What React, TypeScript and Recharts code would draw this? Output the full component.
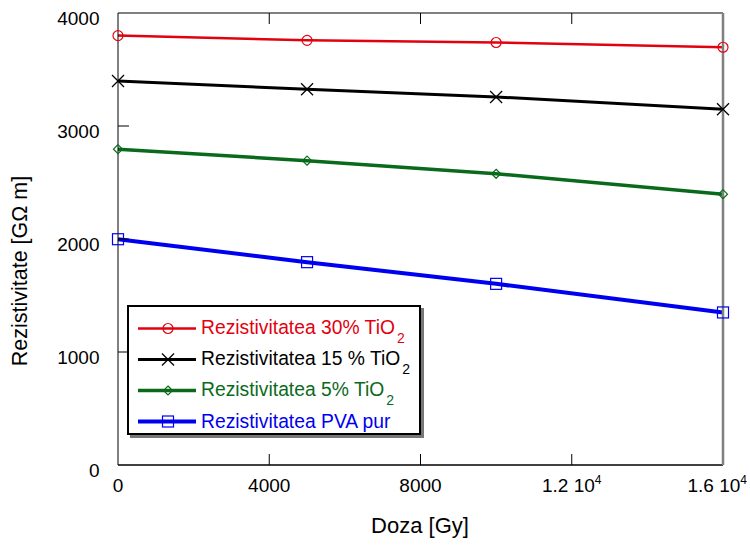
import React from 'react';
import { LineChart, Line, XAxis, YAxis, Legend } from 'recharts';

// Dose values (Gy) and resistivity (GΩ·m) for each film composition
const doses = [0, 5000, 10000, 16000];
const rez30 = [3800, 3758, 3739, 3697];
const rez15 = [3398, 3325, 3257, 3148];
const rez5 = [2795, 2693, 2577, 2397];
const rezPva = [1998, 1795, 1603, 1350];

const xTicks = [0, 4000, 8000, 12000, 16000];
const yTicks = [0, 1000, 2000, 3000, 4000];

const seriesNames = [
  'Rezistivitatea 30% TiO2',
  'Rezistivitatea 15 % TiO2',
  'Rezistivitatea 5% TiO2',
  'Rezistivitatea PVA pur',
];

const data = doses.map((d, i) => ({
  doza: d,
  r30: rez30[i],
  r15: rez15[i],
  r5: rez5[i],
  pva: rezPva[i],
}));

const FONT = 'Liberation Sans, Arial, sans-serif';
const RED = '#e3000f';
const BLACK = '#000000';
const GREEN = '#0a6a1c';
const BLUE = '#0000f0';

type MarkerKind = 'circle' | 'cross' | 'diamond' | 'square';

const Marker = ({ kind, cx, cy, color }: { kind: MarkerKind; cx: number; cy: number; color: string }) => {
  if (kind === 'circle') return <circle cx={cx} cy={cy} r={5} fill="none" stroke={color} strokeWidth={1.2} />;
  if (kind === 'cross')
    return (
      <g stroke={color} strokeWidth={1.2}>
        <line x1={cx - 6} y1={cy - 6} x2={cx + 6} y2={cy + 6} />
        <line x1={cx - 6} y1={cy + 6} x2={cx + 6} y2={cy - 6} />
      </g>
    );
  if (kind === 'diamond')
    return (
      <polygon
        points={`${cx},${cy - 4.5} ${cx + 4.5},${cy} ${cx},${cy + 4.5} ${cx - 4.5},${cy}`}
        fill="none"
        stroke={color}
        strokeWidth={1.2}
      />
    );
  return <rect x={cx - 5.5} y={cy - 5.5} width={11} height={11} fill="none" stroke={color} strokeWidth={1.2} />;
};

const makeDot = (kind: MarkerKind, color: string) => (props: any) => {
  const { cx, cy, index } = props;
  if (cx == null || cy == null) return <g key={index} />;
  return <Marker key={index} kind={kind} cx={cx} cy={cy} color={color} />;
};

const series = [
  { key: 'r30', name: seriesNames[0], color: RED, width: 2.5, marker: 'circle' as MarkerKind },
  { key: 'r15', name: seriesNames[1], color: BLACK, width: 3, marker: 'cross' as MarkerKind },
  { key: 'r5', name: seriesNames[2], color: GREEN, width: 3.5, marker: 'diamond' as MarkerKind },
  { key: 'pva', name: seriesNames[3], color: BLUE, width: 4, marker: 'square' as MarkerKind },
];

const doseLabel = (v: number) => {
  if (v >= 10000) {
    return (
      <>
        <tspan>{`${v / 10000} 10`}</tspan>
        <tspan dy={-8} fontSize={12}>4</tspan>
      </>
    );
  }
  return <tspan>{String(v)}</tspan>;
};

const BottomTick = (props: any) => {
  const { x, y, payload } = props;
  const v = payload.value;
  const last = v === 16000;
  return (
    <g>
      {v !== 0 && !last && <line x1={x} y1={y} x2={x} y2={y - 11} stroke="#000" strokeWidth={1} />}
      <text
        x={last ? 747 : x}
        y={y + 27}
        textAnchor={last ? 'end' : 'middle'}
        fontFamily={FONT}
        fontSize={19}
        fill="#000"
      >
        {doseLabel(v)}
      </text>
    </g>
  );
};

const TopTick = (props: any) => {
  const { x, y, payload } = props;
  const v = payload.value;
  if (v === 0 || v === 16000) return <g />;
  return <line x1={x} y1={y} x2={x} y2={y + 11} stroke="#000" strokeWidth={1} />;
};

const LeftTick = (props: any) => {
  const { x, y, payload } = props;
  const v = payload.value;
  return (
    <g>
      {v !== 0 && v !== 4000 && <line x1={x} y1={y} x2={x + 11} y2={y} stroke="#000" strokeWidth={1} />}
      <text
        x={x - 18.5}
        y={y + 5.5}
        textAnchor="end"
        dominantBaseline="central"
        fontFamily={FONT}
        fontSize={19}
        fill="#000"
      >
        {String(v)}
      </text>
    </g>
  );
};

const RightTick = (props: any) => {
  const { x, y, payload } = props;
  const v = payload.value;
  if (v === 0 || v === 4000) return <g />;
  return <line x1={x} y1={y} x2={x - 11} y2={y} stroke="#000" strokeWidth={1} />;
};

const legendText = (name: string) => {
  const m = name.match(/^(.*TiO)2$/);
  if (!m) return name;
  return (
    <>
      {m[1]}
      <span style={{ fontSize: 14, position: 'relative', top: 9, marginLeft: 2 }}>2</span>
    </>
  );
};

const LegendBox = () => (
  <div
    style={{
      width: 294,
      height: 130,
      border: '2px solid #000',
      background: '#fff',
      boxShadow: '3px 3px 0 #777',
      boxSizing: 'border-box',
      paddingTop: 6,
      fontFamily: FONT,
      fontSize: 19.3,
    }}
  >
    {series.map((s) => (
      <div key={s.key} style={{ display: 'flex', alignItems: 'center', height: 31, whiteSpace: 'nowrap' }}>
        <svg width={72} height={31} style={{ flex: 'none' }}>
          <line x1={9} y1={15.5} x2={67} y2={15.5} stroke={s.color} strokeWidth={s.width} />
          <Marker kind={s.marker} cx={39} cy={15.5} color={s.color} />
        </svg>
        <span style={{ color: s.color, lineHeight: '31px' }}>{legendText(s.name)}</span>
      </div>
    ))}
  </div>
);

export default function App() {
  return (
    <div style={{ position: 'absolute', left: 0, top: 0, width: 750, height: 547, background: '#fff' }}>
      <LineChart width={750} height={547} data={data} margin={{ top: 0, right: 0, bottom: 0, left: 0 }}>
        <XAxis
          xAxisId="bottom"
          dataKey="doza"
          type="number"
          domain={[0, 16000]}
          ticks={xTicks}
          height={82}
          tickSize={0}
          tickMargin={0}
          tick={<BottomTick />}
          axisLine={{ stroke: '#000', strokeWidth: 1.5 }}
          tickLine={false}
          interval={0}
        />
        <XAxis
          xAxisId="top"
          orientation="top"
          dataKey="doza"
          type="number"
          domain={[0, 16000]}
          ticks={xTicks}
          height={13}
          tickSize={0}
          tickMargin={0}
          tick={<TopTick />}
          axisLine={{ stroke: '#000', strokeWidth: 1 }}
          tickLine={false}
          interval={0}
        />
        <YAxis
          yAxisId="left"
          type="number"
          domain={[0, 4000]}
          ticks={yTicks}
          width={118}
          tickSize={0}
          tickMargin={0}
          tick={<LeftTick />}
          axisLine={{ stroke: '#000', strokeWidth: 1 }}
          tickLine={false}
          interval={0}
        />
        <YAxis
          yAxisId="right"
          orientation="right"
          type="number"
          domain={[0, 4000]}
          ticks={yTicks}
          width={27}
          tickSize={0}
          tickMargin={0}
          tick={<RightTick />}
          axisLine={{ stroke: '#808080', strokeWidth: 2.5 }}
          tickLine={false}
          interval={0}
        />
        <Legend
          layout="vertical"
          align="center"
          verticalAlign="middle"
          content={<LegendBox />}
          wrapperStyle={{ left: 127, top: 305, width: 300, height: 136 }}
        />
        {series.map((s) => (
          <Line
            key={s.key}
            xAxisId="bottom"
            yAxisId="left"
            dataKey={s.key}
            name={s.name}
            type="linear"
            stroke={s.color}
            strokeWidth={s.width}
            dot={makeDot(s.marker, s.color)}
            activeDot={false}
            isAnimationActive={false}
          />
        ))}
        <text x={420} y={533} textAnchor="middle" fontFamily={FONT} fontSize={22} fill="#000">
          Doza [Gy]
        </text>
        <text
          transform="translate(27 271) rotate(-90)"
          textAnchor="middle"
          fontFamily={FONT}
          fontSize={21.5}
          fill="#000"
        >
          Rezistivitate [GΩ m]
        </text>
      </LineChart>
    </div>
  );
}
